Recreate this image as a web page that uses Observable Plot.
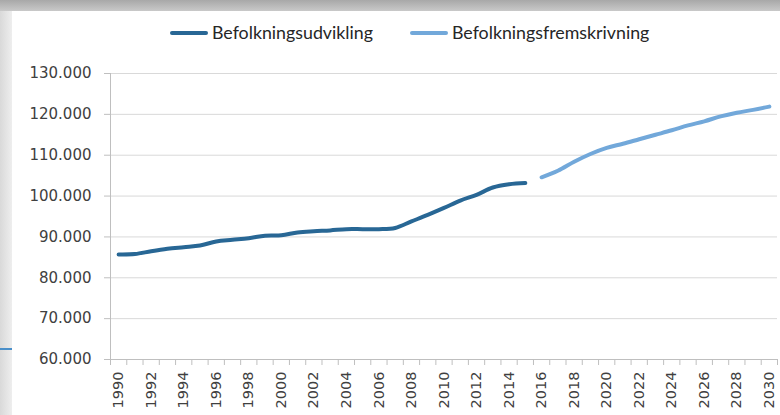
<!DOCTYPE html>
<html>
<head>
<meta charset="utf-8">
<script src="https://cdn.jsdelivr.net/npm/d3@7"></script>
<script src="https://cdn.jsdelivr.net/npm/@observablehq/plot@0.6"></script>
<style>
  html, body { margin: 0; padding: 0; }
  body { width: 780px; height: 415px; position: relative; overflow: hidden;
         background: linear-gradient(to right, #d9d9d9 0px, #eeeeee 12px); }
  #topband { position: absolute; left: 0; top: 0; width: 780px; height: 11px;
             background: linear-gradient(to bottom, #a8a8a8, #c9c9c9); }
  #panel { position: absolute; left: 12px; top: 11px; width: 768px; height: 404px; background: #ffffff; }
  #artifact { position: absolute; left: 0; top: 348px; width: 12px; height: 2px; background: #4a8fc9; }
  #chart { position: absolute; left: 0; top: 0; }
  #chart svg text { font-family: "DejaVu Sans", sans-serif !important; }
  .leg { position: absolute; top: 21px; font-family: Lato, "Open Sans", sans-serif; font-size: 17.8px; color: #262626; white-space: nowrap; }
  .sw { position: absolute; height: 4px; border-radius: 2px; }
</style>
</head>
<body>
<div id="topband"></div>
<div id="panel"></div>
<div id="artifact"></div>
<div id="chart"></div>
<div class="sw" style="left:170px; top:31px; width:38px; background:#286795"></div>
<div class="leg" id="leg1" style="left:212px">Befolkningsudvikling</div>
<div class="sw" style="left:410px; top:31px; width:38px; background:#72a8da"></div>
<div class="leg" id="leg2" style="left:452px">Befolkningsfremskrivning</div>
<script>
const seriesNames = ["Befolkningsudvikling", "Befolkningsfremskrivning"];

const histYears = [1990, 1991, 1992, 1993, 1994, 1995, 1996, 1997, 1998, 1999, 2000, 2001, 2002,
                   2003, 2004, 2005, 2006, 2007, 2008, 2009, 2010, 2011, 2012, 2013, 2014, 2015];
const histValues = [85700, 85800, 86500, 87100, 87500, 87900, 88900, 89300, 89700, 90300, 90400, 91100, 91400,
                    91600, 91900, 91900, 91900, 92200, 93800, 95400, 97100, 98900, 100300, 102100, 102900, 103200];

const projYears = [2016, 2017, 2018, 2019, 2020, 2021, 2022, 2023, 2024, 2025, 2026, 2027, 2028, 2029, 2030];
const projValues = [104600, 106200, 108400, 110300, 111800, 112800, 113900, 115000, 116100, 117300, 118300, 119500, 120400, 121100, 121900];

const yTicks = [60000, 70000, 80000, 90000, 100000, 110000, 120000, 130000];
const xLabelYears = [1990, 1992, 1994, 1996, 1998, 2000, 2002, 2004, 2006, 2008, 2010,
                     2012, 2014, 2016, 2018, 2020, 2022, 2024, 2026, 2028, 2030];
const xBoundaries = [1989.5, 1990.5, 1991.5, 1992.5, 1993.5, 1994.5, 1995.5, 1996.5, 1997.5, 1998.5, 1999.5,
                     2000.5, 2001.5, 2002.5, 2003.5, 2004.5, 2005.5, 2006.5, 2007.5, 2008.5, 2009.5,
                     2010.5, 2011.5, 2012.5, 2013.5, 2014.5, 2015.5, 2016.5, 2017.5, 2018.5, 2019.5,
                     2020.5, 2021.5, 2022.5, 2023.5, 2024.5, 2025.5, 2026.5, 2027.5, 2028.5, 2029.5, 2030.5];

const hist = histYears.map((year, i) => ({year, value: histValues[i], series: seriesNames[0]}));
const proj = projYears.map((year, i) => ({year, value: projValues[i], series: seriesNames[1]}));

const fmtY = d => d3.format(",")(d).replace(/,/g, ".");

const chart = Plot.plot({
  width: 780,
  height: 415,
  marginLeft: 110,
  marginRight: 3,
  marginTop: 73,
  marginBottom: 56,
  style: { fontFamily: "'DejaVu Sans', sans-serif", background: "transparent", overflow: "visible" },
  x: { domain: [1989.5, 2030.5] },
  y: { domain: [60000, 130000] },
  marks: [
    Plot.ruleY(yTicks.slice(1), { stroke: "#d9d9d9", strokeWidth: 1 }),
    Plot.ruleY([60000], { stroke: "#bfbfbf", strokeWidth: 1 }),
    Plot.ruleX([1989.5], { y1: 60000, y2: 130000, stroke: "#bfbfbf", strokeWidth: 1 }),
    Plot.axisY(yTicks, { tickSize: 6, tickPadding: 13, tickFormat: fmtY, stroke: "#bfbfbf", fill: "#404040", fontSize: 15, label: null }),
    Plot.axisX(xBoundaries, { tickSize: 6, tickFormat: () => "", stroke: "#bfbfbf", label: null }),
    Plot.axisX(xLabelYears, { tickSize: 0, tickPadding: 12, tickRotate: -90, tickFormat: d => String(d), fill: "#404040", fontSize: 14.5, label: null }),
    Plot.line(hist, { x: "year", y: "value", stroke: "#286795", strokeWidth: 4, curve: "catmull-rom", strokeLinecap: "round" }),
    Plot.line(proj, { x: "year", y: "value", stroke: "#72a8da", strokeWidth: 4, curve: "catmull-rom", strokeLinecap: "round" })
  ]
});
document.getElementById("chart").appendChild(chart);
</script>
</body>
</html>
